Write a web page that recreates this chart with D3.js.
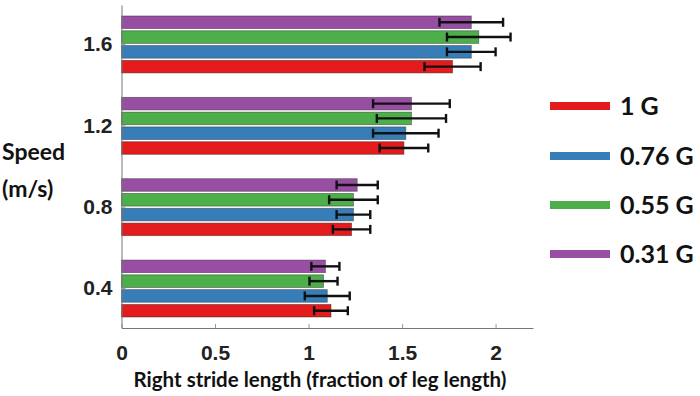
<!DOCTYPE html>
<html>
<head>
<meta charset="utf-8">
<script src="https://cdn.jsdelivr.net/npm/d3@7"></script>
<style>
  body { margin: 0; background: #fff; }
  svg { display: block; }
</style>
</head>
<body>
<div id="chart"></div>
<script>
// speeds (m/s), top to bottom
const speeds = ["1.6", "1.2", "0.8", "0.4"];
// gravity levels, legend order
const gravity = ["1 G", "0.76 G", "0.55 G", "0.31 G"];
const colors = ["#e41a1c", "#377eb8", "#4daf4a", "#984ea3"];

// mean stride length per speed, one array per gravity level (0.4, 0.8, 1.2, 1.6)
const speedKeys = ["0.4", "0.8", "1.2", "1.6"];
const mean1G   = [1.12, 1.23, 1.51, 1.77];
const mean076G = [1.10, 1.24, 1.52, 1.87];
const mean055G = [1.08, 1.24, 1.55, 1.91];
const mean031G = [1.09, 1.26, 1.55, 1.87];
// error bar half-widths
const err1G   = [0.09, 0.10, 0.13, 0.15];
const err076G = [0.12, 0.09, 0.175, 0.13];
const err055G = [0.075, 0.13, 0.185, 0.17];
const err031G = [0.075, 0.11, 0.205, 0.17];

const xTicks = [0, 0.5, 1, 1.5, 2];

const means = [mean1G, mean076G, mean055G, mean031G];
const errs = [err1G, err076G, err055G, err031G];

const data = [];
gravity.forEach((g, gi) => {
    speedKeys.forEach((s, si) => {
        data.push({ speed: s, g: g, value: means[gi][si], err: errs[gi][si], color: colors[gi] });
    });
});

const width = 700, height = 396;
const svg = d3.select("#chart")
    .append("svg")
    .attr("width", width)
    .attr("height", height)
    .style("font-family", "'Liberation Sans', Arial, sans-serif");

const x = d3.scaleLinear().domain([0, 2.2]).range([121.5, 533]);
const y = d3.scaleBand().domain(speeds).range([5, 328])
    .paddingInner(0.3).paddingOuter(0.135);
// within a group, bars from top: 0.31, 0.55, 0.76, 1 G
const yIn = d3.scaleBand().domain(gravity.slice().reverse())
    .range([0, y.bandwidth()]).paddingInner(0.15);

// bars
const bars = svg.append("g");
bars.selectAll("rect")
    .data(data)
    .enter().append("rect")
    .attr("x", x(0))
    .attr("y", d => y(d.speed) + yIn(d.g))
    .attr("width", d => x(d.value) - x(0))
    .attr("height", yIn.bandwidth())
    .attr("fill", d => d.color)
    .attr("stroke", "#333")
    .attr("stroke-opacity", 0.6)
    .attr("stroke-width", 0.8);

// error bars
const eb = svg.append("g").attr("stroke", "#111").attr("stroke-width", 2.4);
data.forEach(d => {
    const cy = y(d.speed) + yIn(d.g) + yIn.bandwidth() / 2;
    eb.append("line")
        .attr("x1", x(d.value - d.err)).attr("x2", x(d.value + d.err))
        .attr("y1", cy).attr("y2", cy);
    [d.value - d.err, d.value + d.err].forEach(v => {
        eb.append("line")
            .attr("x1", x(v)).attr("x2", x(v))
            .attr("y1", cy - 4.5).attr("y2", cy + 4.5);
    });
});

// x axis
const xAxis = svg.append("g")
    .attr("transform", "translate(0,328)")
    .call(d3.axisBottom(x).tickValues(xTicks).tickFormat(d3.format("")).tickSizeInner(-4).tickSizeOuter(0));
xAxis.select(".domain").attr("stroke", "#777");
xAxis.selectAll(".tick line").attr("stroke", "#999");
xAxis.selectAll("text")
    .attr("y", 32)
    .attr("dy", 0)
    .attr("fill", "#222")
    .style("font-size", "21px")
    .style("font-weight", "bold")
    .style("font-family", "'Liberation Sans', Arial, sans-serif");

// y axis
const yAxis = svg.append("g")
    .attr("transform", "translate(121.5,0)")
    .call(d3.axisLeft(y).tickSizeInner(-4).tickSizeOuter(0).tickPadding(9));
yAxis.select(".domain").attr("stroke", "#777");
yAxis.selectAll(".tick line").attr("stroke", "#999");
yAxis.selectAll("text")
    .attr("fill", "#222")
    .style("font-size", "21px")
    .style("font-weight", "bold")
    .style("font-family", "'Liberation Sans', Arial, sans-serif");

// axis titles
const labelFont = "Lato, 'Open Sans', sans-serif";
svg.append("text")
    .attr("x", 320).attr("y", 387)
    .attr("text-anchor", "middle")
    .style("font-family", labelFont)
    .style("font-weight", "bold")
    .style("font-size", "20.5px")
    .attr("fill", "#111")
    .text("Right stride length (fraction of leg length)");

svg.append("text")
    .attr("x", 2).attr("y", 160)
    .style("font-family", labelFont)
    .style("font-weight", "bold")
    .style("font-size", "23px")
    .attr("fill", "#111")
    .text("Speed");
svg.append("text")
    .attr("x", 2).attr("y", 197)
    .style("font-family", labelFont)
    .style("font-weight", "bold")
    .style("font-size", "23px")
    .attr("fill", "#111")
    .text("(m/s)");

// legend
const legend = svg.append("g");
const legRows = [106, 156, 205, 254];
gravity.forEach((g, i) => {
    legend.append("rect")
        .attr("x", 550).attr("y", legRows[i] - 4)
        .attr("width", 60).attr("height", 8)
        .attr("fill", colors[i]);
    legend.append("text")
        .attr("x", 620).attr("y", legRows[i])
        .attr("dy", "0.35em")
        .style("font-family", labelFont)
        .style("font-weight", "bold")
        .style("font-size", "25px")
        .attr("fill", "#111")
        .text(g);
});
</script>
</body>
</html>
